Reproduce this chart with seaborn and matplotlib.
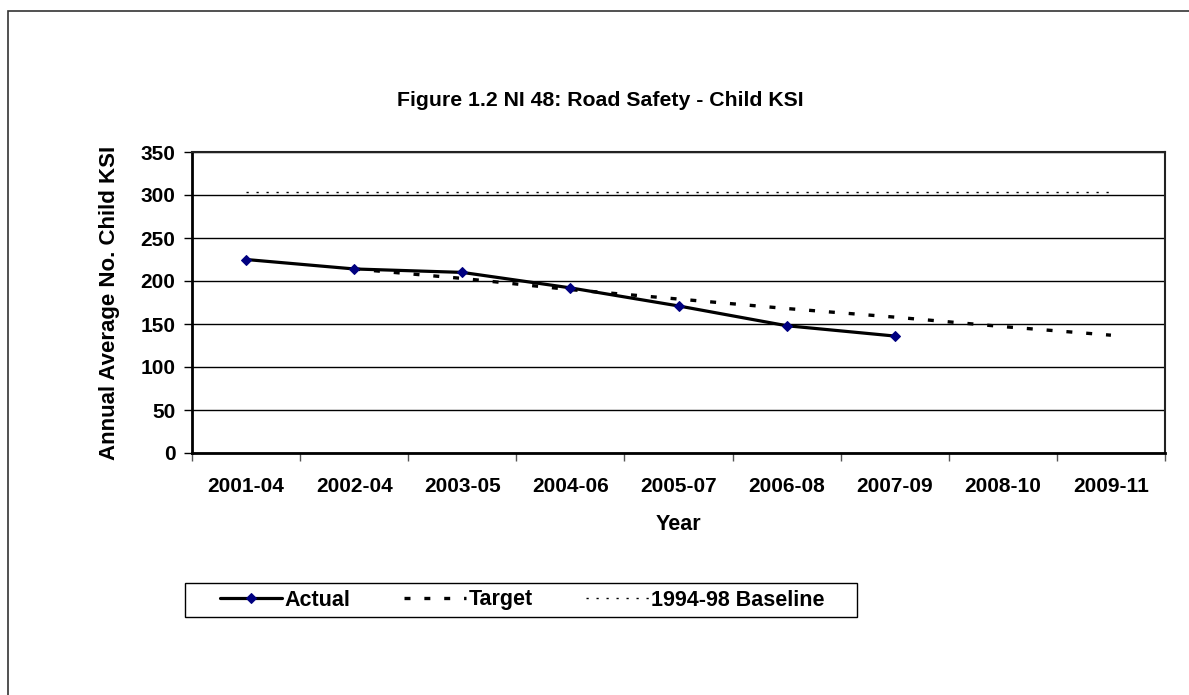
import matplotlib
matplotlib.use("Agg")
import matplotlib.pyplot as plt
import seaborn as sns
import pandas as pd
import numpy as np
from matplotlib.patches import Rectangle

categories = ["2001-04", "2002-04", "2003-05", "2004-06", "2005-07",
              "2006-08", "2007-09", "2008-10", "2009-11"]
actual = [225, 214, 210, 192, 171, 148, 136, None, None]
target = [None, 214, 203, 190, 179, 168, 158, 147, 137]
baseline = [304, 304, 304, 304, 304, 304, 304, 304, 304]
y_ticks = [0, 50, 100, 150, 200, 250, 300, 350]

sns.set_theme(style="white")
plt.rcParams['font.family'] = ['Liberation Sans', 'DejaVu Sans']
plt.rcParams['lines.scale_dashes'] = False
plt.rcParams['text.color'] = 'black'
plt.rcParams['axes.labelcolor'] = 'black'
plt.rcParams['xtick.labelcolor'] = 'black'
plt.rcParams['ytick.labelcolor'] = 'black'

fig = plt.figure(figsize=(11.89, 6.95), dpi=100)
ax = fig.add_axes([192/1189, 1-453/695, (1165-192)/1189, (453-152)/695])

df = pd.DataFrame({"Year": categories, "Actual": actual,
                   "Target": target, "Baseline": baseline})

sns.lineplot(data=df, x="Year", y="Actual", ax=ax, color="black", lw=2.3,
             marker="D", markersize=5.5, markerfacecolor="#000080",
             markeredgecolor="#000080", label="Actual", zorder=5)
sns.lineplot(data=df, x="Year", y="Target", ax=ax, color="black", lw=2.4,
             dashes=False, label="Target", zorder=4)
sns.lineplot(data=df, x="Year", y="Baseline", ax=ax, color="black", lw=1.0,
             dashes=False, label="1994-98 Baseline", zorder=4)
ax.lines[1].set_dashes((4.3, 10))
ax.lines[2].set_dashes((1.6, 5.6))

ax.set_xlim(-0.5, len(categories) - 0.5)
ax.set_ylim(0, 350)
ax.set_yticks(y_ticks)
ax.set_yticklabels([str(v) for v in y_ticks], fontsize=15, fontweight="bold",
                   color="black")
ax.set_xticks(range(len(categories)))
ax.set_xticklabels(categories, fontsize=15, fontweight="bold", color="black")
ax.set_xticks(np.arange(-0.5, len(categories), 1.0), minor=True)
ax.tick_params(axis="x", which="major", length=0, pad=17)
ax.tick_params(axis="x", which="minor", length=6, width=1, color="#555555",
               direction="out", bottom=True)
ax.tick_params(axis="y", which="major", length=6, width=1, color="black",
               direction="out", left=True, pad=6)
ax.grid(axis="y", color="black", lw=1)
ax.set_axisbelow(True)

for side, sp in ax.spines.items():
    sp.set_visible(True)
    sp.set_color("#222222")
    sp.set_linewidth(1.5)
ax.spines["left"].set_linewidth(2)
ax.spines["left"].set_color("black")
ax.spines["bottom"].set_linewidth(2)
ax.spines["bottom"].set_color("black")

ax.set_xlabel("Year", fontsize=15.5, fontweight="bold", labelpad=13,
              color="black")
ax.set_ylabel("Annual Average No. Child KSI", fontsize=16, fontweight="bold",
              labelpad=15, color="black")

fig.text(600/1189, 1-100/695, "Figure 1.2 NI 48: Road Safety - Child KSI",
         ha="center", va="center", fontsize=15.3, fontweight="bold",
         color="black")

leg = ax.legend(loc="center", bbox_to_anchor=(522/1189, 1-600/695),
                bbox_transform=fig.transFigure, ncol=3, frameon=False,
                prop={"weight": "bold", "size": 15.5}, handlelength=2.9,
                handletextpad=0.1, columnspacing=2.5, borderpad=0.3)
for t in leg.get_texts():
    t.set_color("black")

# legend frame (wider horizontal padding than matplotlib's symmetric borderpad)
fig.patches.append(Rectangle((185/1189, 1-617/695), (857-185)/1189, 34/695,
                             transform=fig.transFigure, fill=False,
                             edgecolor="black", lw=1.0))

# outer chart-area border
fig.patches.append(Rectangle((8/1189, -0.05), 1.2, 1-11/695+0.05,
                             transform=fig.transFigure, fill=False,
                             edgecolor="#333333", lw=1.2))

fig.savefig("out.png", dpi=100, facecolor="white")
